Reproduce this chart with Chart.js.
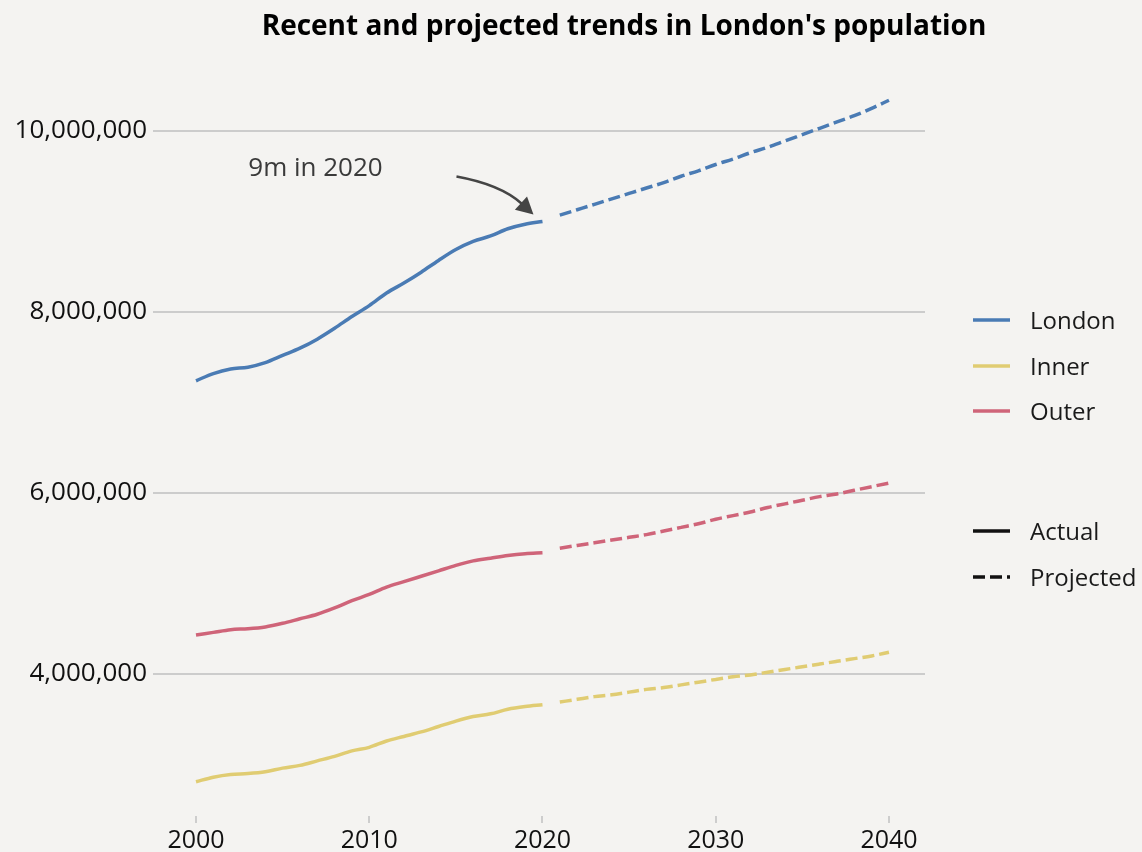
<!DOCTYPE html>
<html>
<head>
<meta charset="utf-8">
<script src="https://cdn.jsdelivr.net/npm/chart.js@4.4.1/dist/chart.umd.min.js"></script>
<style>
  html, body { margin: 0; padding: 0; background: #f4f3f1; }
  #wrap { width: 1142px; height: 852px; }
</style>
</head>
<body>
<div id="wrap"><canvas id="chart" width="1142" height="852"></canvas></div>
<script>
// Population by year (people), actual 2000-2020 and projected 2021-2040
const actualYears = [2000, 2001, 2002, 2003, 2004, 2005, 2006, 2007, 2008, 2009, 2010,
                     2011, 2012, 2013, 2014, 2015, 2016, 2017, 2018, 2019, 2020];
const projectedYears = [2021, 2022, 2023, 2024, 2025, 2026, 2027, 2028, 2029, 2030,
                        2031, 2032, 2033, 2034, 2035, 2036, 2037, 2038, 2039, 2040];

const londonActual = [7240000, 7320000, 7370000, 7390000, 7440000, 7520000, 7600000, 7700000,
                      7820000, 7950000, 8070000, 8210000, 8320000, 8440000, 8570000, 8690000,
                      8780000, 8840000, 8920000, 8970000, 9000000];
const innerActual  = [2810000, 2860000, 2890000, 2900000, 2920000, 2960000, 2990000, 3040000,
                      3090000, 3150000, 3190000, 3260000, 3310000, 3360000, 3420000, 3480000,
                      3530000, 3560000, 3610000, 3640000, 3660000];
const outerActual  = [4430000, 4460000, 4490000, 4500000, 4520000, 4560000, 4610000, 4660000,
                      4730000, 4810000, 4880000, 4960000, 5020000, 5080000, 5140000, 5200000,
                      5250000, 5280000, 5310000, 5330000, 5340000];

const londonProjected = [9070000, 9130000, 9190000, 9250000, 9310000, 9370000, 9430000, 9500000,
                         9560000, 9630000, 9690000, 9760000, 9820000, 9890000, 9960000, 10030000,
                         10100000, 10170000, 10250000, 10340000];
const innerProjected  = [3690000, 3720000, 3750000, 3770000, 3800000, 3830000, 3850000, 3880000,
                         3910000, 3940000, 3970000, 3990000, 4020000, 4050000, 4080000, 4110000,
                         4140000, 4170000, 4200000, 4240000];
const outerProjected  = [5390000, 5420000, 5450000, 5480000, 5510000, 5540000, 5580000, 5620000,
                         5660000, 5710000, 5750000, 5790000, 5840000, 5880000, 5920000, 5960000,
                         5990000, 6030000, 6070000, 6110000];

const xTickValues = [2000, 2010, 2020, 2030, 2040];
const yTickValues = [4000000, 6000000, 8000000, 10000000];

const seriesNames = ['London', 'Inner', 'Outer'];
const styleNames = ['Actual', 'Projected'];
const titleText = "Recent and projected trends in London's population";
const noteText = '9m in 2020';
const noteYear = 2020;
const noteValue = 9000000;

const COLORS = { London: '#4a7bb4', Inner: '#e0cc72', Outer: '#cf6479' };
const DASH = [12, 5];
const BG = '#f4f3f1';
const FONT = '"Open Sans", "DejaVu Sans", sans-serif';

function pairs(xs, ys) { return xs.map((x, i) => ({ x: x, y: ys[i] })); }

function lineSet(label, years, values, color, dashed) {
  return {
    label: label,
    data: pairs(years, values),
    borderColor: color,
    backgroundColor: color,
    borderWidth: 3.5,
    borderDash: dashed ? DASH : [],
    borderCapStyle: 'butt',
    pointRadius: 0,
    pointHoverRadius: 0,
    cubicInterpolationMode: 'monotone',
    fill: false
  };
}

const datasets = [
  lineSet('London', actualYears, londonActual, COLORS.London, false),
  lineSet('London (projected)', projectedYears, londonProjected, COLORS.London, true),
  lineSet('Inner', actualYears, innerActual, COLORS.Inner, false),
  lineSet('Inner (projected)', projectedYears, innerProjected, COLORS.Inner, true),
  lineSet('Outer', actualYears, outerActual, COLORS.Outer, false),
  lineSet('Outer (projected)', projectedYears, outerProjected, COLORS.Outer, true)
];

// Page background
const backdrop = {
  id: 'backdrop',
  beforeDraw(chart) {
    const ctx = chart.ctx;
    ctx.save();
    ctx.fillStyle = BG;
    ctx.fillRect(0, 0, chart.width, chart.height);
    ctx.restore();
  }
};

// Title, "9m in 2020" callout and the two-part key on the right
const decorations = {
  id: 'decorations',
  afterDraw(chart) {
    const ctx = chart.ctx;
    const xs = chart.scales.x, ys = chart.scales.y;
    ctx.save();

    // title
    ctx.fillStyle = '#000';
    ctx.font = 'bold 28px ' + FONT;
    ctx.textAlign = 'center';
    ctx.textBaseline = 'middle';
    ctx.fillText(titleText, 624, 27);

    // callout pointing at the 2020 London value
    const px = xs.getPixelForValue(noteYear);
    const py = ys.getPixelForValue(noteValue);
    ctx.fillStyle = '#3a3a3a';
    ctx.font = '26px ' + FONT;
    ctx.textAlign = 'center';
    ctx.fillText(noteText, px - 227, py - 53);

    const p0 = { x: px - 86, y: py - 45 };
    const c  = { x: px - 42, y: py - 37 };
    const p2 = { x: px - 21, y: py - 18 };
    const tip = { x: px - 9, y: py - 7 };
    ctx.strokeStyle = '#454545';
    ctx.lineWidth = 2.5;
    ctx.beginPath();
    ctx.moveTo(p0.x, p0.y);
    ctx.quadraticCurveTo(c.x, c.y, p2.x, p2.y);
    ctx.stroke();
    const ang = Math.atan2(tip.y - p2.y, tip.x - p2.x);
    const hl = 17, hw = 9;
    const bx = tip.x - hl * Math.cos(ang), by = tip.y - hl * Math.sin(ang);
    ctx.fillStyle = '#454545';
    ctx.beginPath();
    ctx.moveTo(tip.x, tip.y);
    ctx.lineTo(bx + hw * Math.sin(ang), by - hw * Math.cos(ang));
    ctx.lineTo(bx - hw * Math.sin(ang), by + hw * Math.cos(ang));
    ctx.closePath();
    ctx.fill();

    // key: series colours
    const keyX = 973, keyLen = 37, textX = 1030;
    const rows = [321, 367, 412];
    ctx.font = '24px ' + FONT;
    ctx.textAlign = 'left';
    ctx.textBaseline = 'middle';
    seriesNames.forEach((name, i) => {
      ctx.strokeStyle = COLORS[name];
      ctx.lineWidth = 3.5;
      ctx.setLineDash([]);
      ctx.beginPath();
      ctx.moveTo(keyX, rows[i] - 1);
      ctx.lineTo(keyX + keyLen, rows[i] - 1);
      ctx.stroke();
      ctx.fillStyle = '#1a1a1a';
      ctx.fillText(name, textX, rows[i] + 1);
    });

    // key: line styles
    const styleRows = [531, 577];
    styleNames.forEach((name, i) => {
      ctx.strokeStyle = '#111';
      ctx.lineWidth = 3.5;
      ctx.setLineDash(i === 1 ? DASH : []);
      ctx.beginPath();
      ctx.moveTo(keyX, styleRows[i]);
      ctx.lineTo(keyX + keyLen, styleRows[i]);
      ctx.stroke();
      ctx.setLineDash([]);
      ctx.fillStyle = '#1a1a1a';
      ctx.fillText(name, textX, styleRows[i] + 2);
    });

    ctx.restore();
  }
};

new Chart(document.getElementById('chart'), {
  type: 'line',
  data: { datasets: datasets },
  plugins: [backdrop, decorations],
  options: {
    responsive: false,
    animation: false,
    devicePixelRatio: 1,
    layout: { padding: { top: 80, right: 217, bottom: 0, left: 0 } },
    plugins: {
      legend: { display: false },
      tooltip: { enabled: false },
      title: { display: false }
    },
    scales: {
      x: {
        type: 'linear',
        min: 1997.518,
        max: 2042.08,
        afterBuildTicks(axis) { axis.ticks = xTickValues.map(v => ({ value: v })); },
        afterFit(axis) { axis.height = 36; },
        border: { display: false },
        grid: {
          drawOnChartArea: false,
          drawTicks: true,
          tickLength: 7,
          color: '#cdcdcd',
          lineWidth: 2
        },
        ticks: {
          color: '#111',
          font: { family: FONT, size: 25 },
          padding: 3,
          autoSkip: false,
          maxRotation: 0,
          callback: v => String(v)
        }
      },
      y: {
        type: 'linear',
        min: 2431000,
        max: 10563500,
        afterBuildTicks(axis) { axis.ticks = yTickValues.map(v => ({ value: v })); },
        afterFit(axis) { axis.width = 153; },
        border: { display: false },
        grid: {
          color: '#cccccc',
          lineWidth: 2,
          drawTicks: false
        },
        ticks: {
          color: '#111',
          font: { family: FONT, size: 26 },
          padding: 6,
          callback: v => v.toLocaleString('en-US')
        }
      }
    }
  }
});
</script>
</body>
</html>
